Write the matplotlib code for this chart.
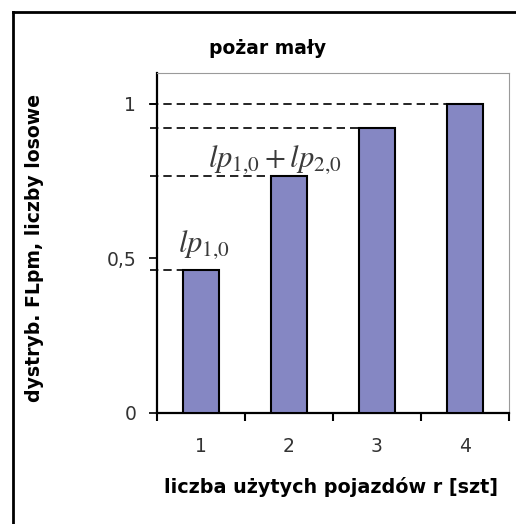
import numpy as np
import matplotlib
matplotlib.use("Agg")
import matplotlib.pyplot as plt
from matplotlib.lines import Line2D

# data
r_values = [1, 2, 3, 4]
fl_values = [0.463, 0.767, 0.922, 1.0]
y_ticks = [0, 0.5, 1]
y_tick_labels = ["0", "0,5", "1"]
ann_texts = [r"$lp_{1{,}0}$", r"$lp_{1{,}0}+lp_{2{,}0}$"]

plt.rcParams['mathtext.fontset'] = 'stix'
plt.rcParams['font.family'] = ['DejaVu Sans']

fig = plt.figure(figsize=(5.16, 5.24), dpi=100)
ax = fig.add_axes([157/516, 111/524, 352/516, 340/524])

x = np.array(r_values)
ax.bar(x, fl_values, width=0.41, color='#8587c3', edgecolor='black', linewidth=1.5, zorder=3)

# dashed guide lines from the axis to each bar
for xi, v in zip(x, fl_values):
    ax.plot([0.42, xi - 0.205], [v, v], color='black', lw=1.2, ls=(0, (5, 3)),
            clip_on=False, zorder=2)

ax.set_xlim(0.5, 4.5)
ax.set_ylim(0, 1.1)

ax.set_xticks(x)
ax.set_xticklabels([str(v) for v in r_values], fontsize=13.5, color='#333333')
ax.set_xticks(np.arange(0.5, 4.6, 1), minor=True)
ax.tick_params(axis='x', which='major', length=0, pad=17)
ax.tick_params(axis='x', which='minor', length=6, width=1.5, direction='out')

ax.set_yticks(y_ticks)
ax.set_yticklabels(y_tick_labels, fontsize=13.5, color='#333333')
ax.tick_params(axis='y', length=6, width=1.2, direction='out', pad=9)

ax.spines['left'].set_linewidth(1.6)
ax.spines['bottom'].set_linewidth(1.6)
ax.spines['top'].set_color('#9a9a9a')
ax.spines['right'].set_color('#9a9a9a')

fig.text(268/516, 1 - 48/524, "pożar mały", fontsize=13.5, fontweight='bold',
         ha='center', va='center')
fig.text(331/516, 1 - 487/524, "liczba użytych pojazdów r [szt]", fontsize=13.8,
         fontweight='bold', ha='center', va='center')
fig.text(35/516, 1 - 248/524, "dystryb. FLpm, liczby losowe", fontsize=13.6,
         fontweight='bold', ha='center', va='center', rotation=90)

ax.text(0.74, 0.52, ann_texts[0], fontsize=22, color='#3a3a3a', ha='left', va='baseline')
ax.text(1.08, 0.795, ann_texts[1], fontsize=22, color='#3a3a3a', ha='left', va='baseline')

# outer frame, running off the right and bottom edge
fig.add_artist(Line2D([13/516, 13/516], [0, 1 - 12/524], color='black', lw=2))
fig.add_artist(Line2D([13/516, 1], [1 - 12/524, 1 - 12/524], color='black', lw=2))

fig.savefig("out.png", dpi=100)
